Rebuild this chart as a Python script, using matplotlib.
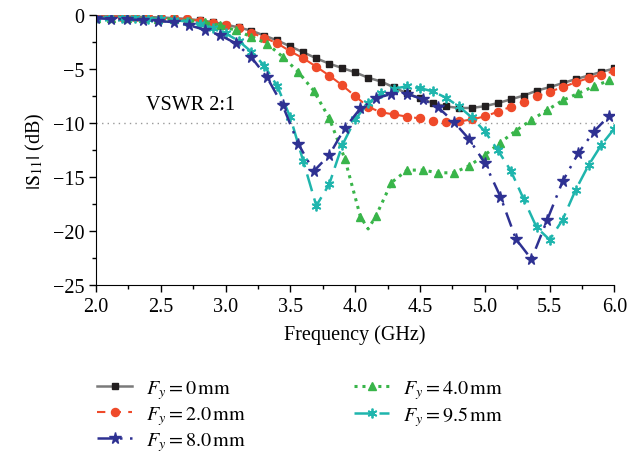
import numpy as np
import matplotlib
matplotlib.use("Agg")
from matplotlib import pyplot as plt

plt.rcParams['font.family'] = ['Liberation Serif', 'DejaVu Serif']
plt.rcParams['mathtext.fontset'] = 'stix'
plt.rcParams['font.size'] = 14.5

# frequency grids (GHz)
freq = np.linspace(2.0, 6.0, 41)          # 0.1 GHz step
freq_b = np.linspace(2.0, 5.96, 34)       # 0.12 GHz step

s11_0mm = [-0.1, -0.1, -0.12, -0.15, -0.18, -0.22, -0.28, -0.35, -0.48, -0.65,
           -0.88, -1.14, -1.45, -1.9, -2.35, -2.9, -3.45, -4.0, -4.5, -4.9,
           -5.3, -5.8, -6.15, -6.7, -7.25, -7.7, -8.15, -8.45, -8.6, -8.6,
           -8.43, -8.15, -7.8, -7.45, -7.0, -6.67, -6.3, -5.93, -5.6, -5.25, -4.94]
s11_2mm = [-0.12, -0.12, -0.14, -0.17, -0.2, -0.25, -0.3, -0.4, -0.52, -0.7,
           -0.92, -1.2, -1.65, -2.1, -2.62, -3.36, -4.0, -4.78, -5.6, -6.5,
           -7.5, -8.5, -9.0, -9.2, -9.4, -9.57, -9.85, -9.94, -9.85, -9.66,
           -9.38, -8.95, -8.49, -8.0, -7.53, -7.1, -6.67, -6.23, -5.83, -5.5, -5.19]
s11_9_5mm = [-0.25, -0.25, -0.27, -0.3, -0.33, -0.38, -0.45, -0.6, -0.85, -1.2,
             -1.7, -2.38, -3.4, -4.7, -6.6, -9.48, -13.55, -17.65, -15.65, -12.05,
             -9.65, -8.15, -7.22, -6.8, -6.6, -6.76, -7.07, -7.65, -8.46, -9.48,
             -10.77, -12.5, -14.4, -17.04, -19.66, -20.8, -18.95, -16.2, -13.9, -12.0, -10.5]
s11_4mm = [-0.25, -0.25, -0.27, -0.3, -0.33, -0.4, -0.5, -0.68, -0.95, -1.42,
           -2.0, -2.65, -3.85, -5.25, -7.0, -9.55, -13.3, -18.65, -18.6, -15.5,
           -14.35, -14.35, -14.6, -14.6, -13.95, -12.96, -11.8, -10.7, -9.7, -8.8,
           -7.9, -7.25, -6.6, -6.05]
s11_8mm = [-0.3, -0.35, -0.4, -0.45, -0.55, -0.65, -0.95, -1.36, -1.88, -2.62,
           -3.92, -5.77, -8.35, -11.9, -14.45, -12.96, -10.45, -8.64, -7.7, -7.3,
           -7.3, -7.78, -8.55, -9.88, -11.5, -13.7, -16.8, -20.74, -22.6, -19.0,
           -15.4, -12.8, -10.8, -9.3]
# dip of the 4.0 mm curve between two markers
dip_f, dip_v = 4.10, -19.8

labels = [r'$F_y = 0\,\mathrm{mm}$', r'$F_y = 2.0\,\mathrm{mm}$',
          r'$F_y = 8.0\,\mathrm{mm}$', r'$F_y = 4.0\,\mathrm{mm}$',
          r'$F_y = 9.5\,\mathrm{mm}$']

fig = plt.figure(figsize=(6.27, 4.6), dpi=100)
ax = fig.add_axes([0.153, 0.378, 0.827, 0.587])

ax.axhline(-10, color='#999999', lw=1.0, ls=(0, (1, 3)), zorder=1)

h0, = ax.plot(freq, s11_0mm, color='#7a7a7a', lw=1.8, ls='-', marker='s', ms=5,
              mfc='#231f20', mec='#231f20')
h1, = ax.plot(freq, s11_2mm, color='#ef4a2a', lw=1.5, ls=(0, (4, 3.5)), marker='o',
              ms=5.8, mfc='#ef4a2a', mec='#ef4a2a')

i_dip = int(np.searchsorted(freq_b, dip_f))
green_f = np.insert(freq_b, i_dip, dip_f)
green_v = np.insert(np.array(s11_4mm), i_dip, dip_v)
green_marks = [i for i in range(len(green_f)) if i != i_dip]
h3, = ax.plot(green_f, green_v, color='#39b54a', lw=2.2, ls=(0, (1, 1.6)), marker='^',
              ms=6, mfc='#39b54a', mec='#39b54a', markevery=green_marks)
h4, = ax.plot(freq, s11_9_5mm, color='#1fb5ad', lw=1.8, ls=(0, (7, 3)),
              marker=(6, 2, 0), ms=7, mew=1.3, mfc='#1fb5ad', mec='#1fb5ad')
h2, = ax.plot(freq_b, s11_8mm, color='#2e3192', lw=1.8, ls=(0, (6, 3, 1, 3)), marker='*',
              ms=8.5, mfc='#2e3192', mec='#2e3192')

ax.text(2.39, -8.3, 'VSWR 2:1', va='center', ha='left')

ax.set_xlim(2.0, 6.0)
ax.set_ylim(-25, 0)
ax.set_xticks(np.arange(2.0, 6.01, 0.5))
ax.set_xticks(np.arange(2.25, 6.0, 0.5), minor=True)
ax.set_xticklabels([f'{v:.1f}' for v in np.arange(2.0, 6.01, 0.5)])
ax.set_yticks(np.arange(-25, 1, 5))
ax.set_yticks(np.arange(-22.5, 0, 5), minor=True)
ax.set_yticklabels(['\u221225', '\u221220', '\u221215', '\u221210', '\u22125', '0'])
for side in ['top', 'right']:
    ax.spines[side].set_visible(False)
ax.tick_params(which='major', length=5, width=1)
ax.tick_params(which='minor', length=3, width=1)
ax.set_xlabel('Frequency (GHz)', labelpad=6)
ax.set_ylabel(r'$|\mathrm{S}_{11}|$ (dB)')

fig.legend([h0, h1, h2, h3, h4], labels, ncol=2, loc='upper left',
           bbox_to_anchor=(0.155, 0.176), frameon=False, numpoints=1,
           handlelength=1.75, handletextpad=0.65, columnspacing=5.4,
           labelspacing=0.15, borderaxespad=0, borderpad=0)

fig.savefig('out.png', dpi=100)
